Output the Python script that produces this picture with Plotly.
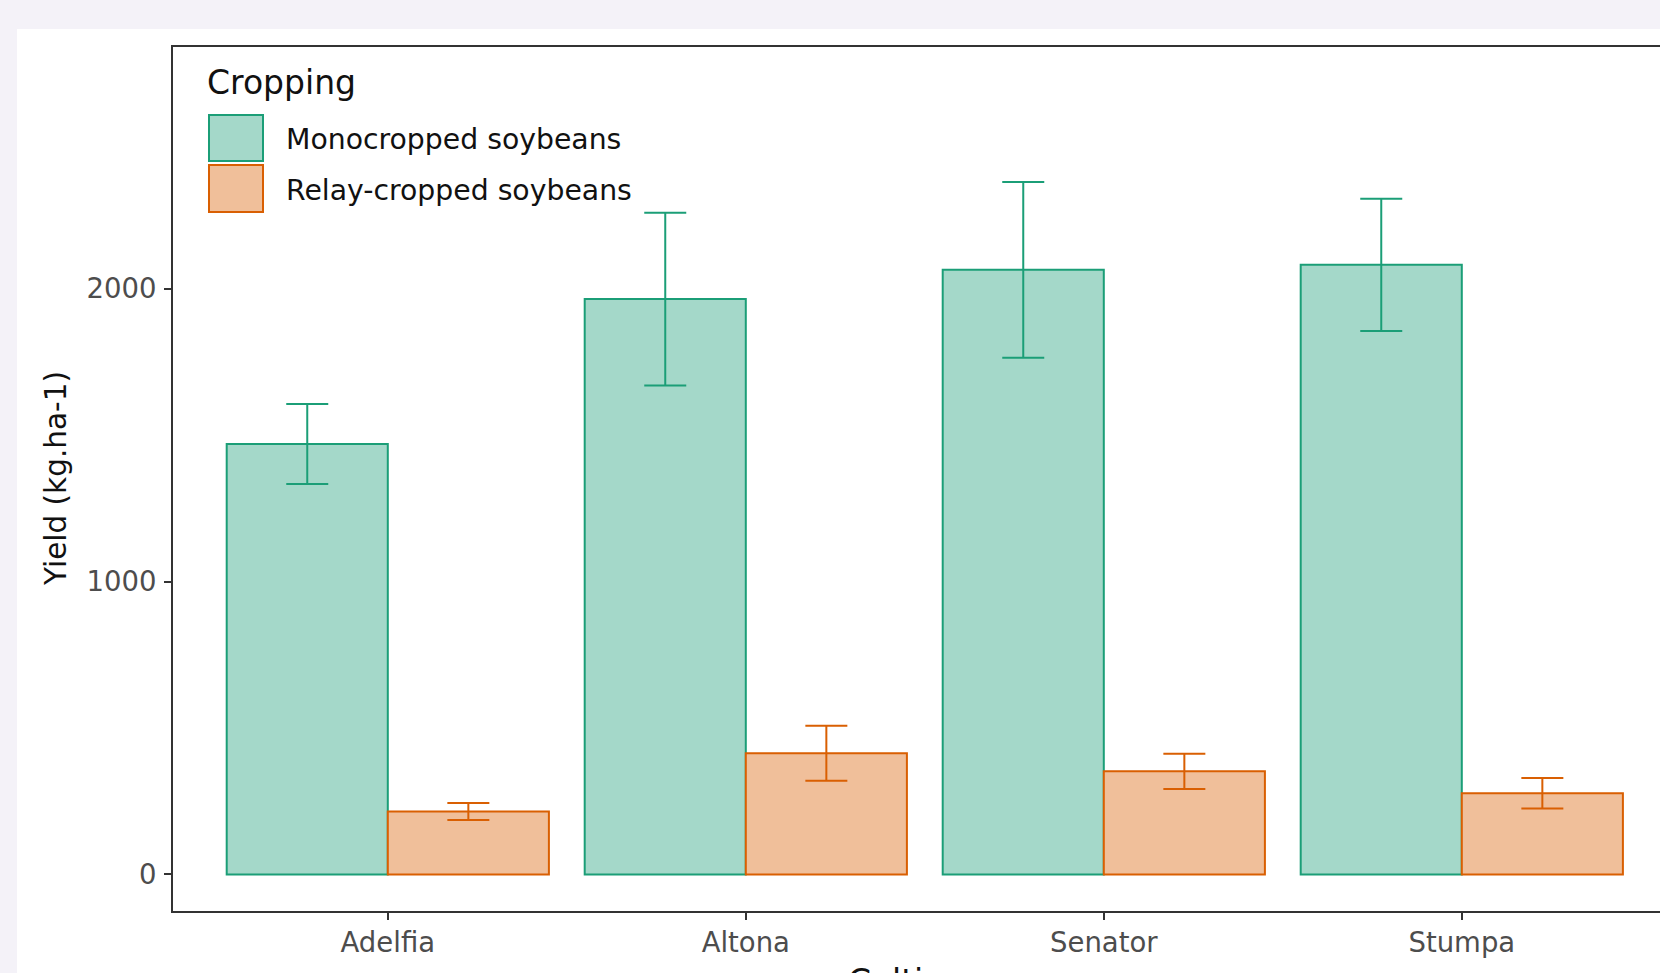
import plotly.graph_objects as go

# Soybean yield by cultivar and cropping system
cultivars = ["Adelfia", "Altona", "Senator", "Stumpa"]
mono_yield = [1470, 1965, 2065, 2082]
mono_err = [137, 295, 300, 226]
relay_yield = [215, 414, 352, 277]
relay_err = [29, 94, 60, 52]
series_names = ["Monocropped soybeans", "Relay-cropped soybeans"]
y_ticks = [0, 1000, 2000]

MONO_LINE, MONO_FILL = "#1B9E77", "#A4D8C9"
RELAY_LINE, RELAY_FILL = "#D95F02", "#F0BF9A"
PAGE_BG = "#F4F2F8"
AXIS_COL = "#333333"
TICK_TXT = "#4D4D4D"
FONT = "DejaVu Sans"

W, H = 1660, 973
ML, MT, MB = 173, 47, 62
PW, PH = W - ML, H - MT - MB


def px(x):
    return (x - ML) / PW


def py(y):
    return (H - MB - y) / PH


fig = go.Figure()
for name, vals, errs, line, fill in [
    (series_names[0], mono_yield, mono_err, MONO_LINE, MONO_FILL),
    (series_names[1], relay_yield, relay_err, RELAY_LINE, RELAY_FILL),
]:
    fig.add_trace(go.Bar(
        x=cultivars, y=vals, name=name,
        marker=dict(color=fill, line=dict(color=line, width=2)),
        error_y=dict(type="data", array=errs, color=line, thickness=2, width=21),
        showlegend=False,
    ))

shapes = [
    # white panel of the page
    dict(type="rect", xref="paper", yref="paper", x0=px(17), x1=px(W + 20),
         y0=py(H + 20), y1=py(29), fillcolor="white", line=dict(width=0), layer="below"),
]
annotations = []

# legend drawn inside the panel
annotations.append(dict(text="Cropping", xref="paper", yref="paper", x=px(205), y=py(83),
                        xanchor="left", yanchor="middle", showarrow=False,
                        font=dict(family=FONT, size=33, color="#111111")))
key_rows = [(115, 161, 140), (165, 212, 191)]
for (y0, y1, yc), name, line, fill in zip(key_rows, series_names,
                                         [MONO_LINE, RELAY_LINE], [MONO_FILL, RELAY_FILL]):
    shapes.append(dict(type="rect", xref="paper", yref="paper", x0=px(209), x1=px(263),
                       y0=py(y1), y1=py(y0), fillcolor=fill, line=dict(color=line, width=2)))
    annotations.append(dict(text=name, xref="paper", yref="paper", x=px(284), y=py(yc),
                            xanchor="left", yanchor="middle", showarrow=False,
                            font=dict(family=FONT, size=28.3, color="#111111")))

# axis titles
annotations.append(dict(text="Yield (kg.ha-1)", xref="paper", yref="paper", x=px(56), y=py(479),
                        xanchor="center", yanchor="middle", textangle=-90, showarrow=False,
                        font=dict(family=FONT, size=29.5, color="#111111")))
annotations.append(dict(text="Cultivars", xref="paper", yref="paper", x=px(921), y=py(981),
                        xanchor="center", yanchor="middle", showarrow=False,
                        font=dict(family=FONT, size=33, color="#111111")))

fig.update_layout(
    width=W, height=H,
    margin=dict(l=ML, r=0, t=MT, b=MB, autoexpand=False),
    paper_bgcolor=PAGE_BG, plot_bgcolor="white",
    barmode="group", bargap=0.1, bargroupgap=0,
    shapes=shapes, annotations=annotations,
    xaxis=dict(range=[-0.6, -0.6 + PW / 358], showgrid=False, zeroline=False,
               showline=True, mirror=True, linecolor=AXIS_COL, linewidth=2,
               ticks="outside", ticklen=7, tickwidth=2, tickcolor=AXIS_COL,
               tickfont=dict(family=FONT, size=27.5, color=TICK_TXT), ticklabelstandoff=-1),
    yaxis=dict(range=[-125, 2826], tickvals=y_ticks, showgrid=False, zeroline=False,
               showline=True, linecolor=AXIS_COL, linewidth=2,
               ticks="outside", ticklen=7, tickwidth=2, tickcolor=AXIS_COL,
               tickfont=dict(family=FONT, size=27.5, color=TICK_TXT), ticklabelstandoff=2),
)

fig.write_html("out.html")
